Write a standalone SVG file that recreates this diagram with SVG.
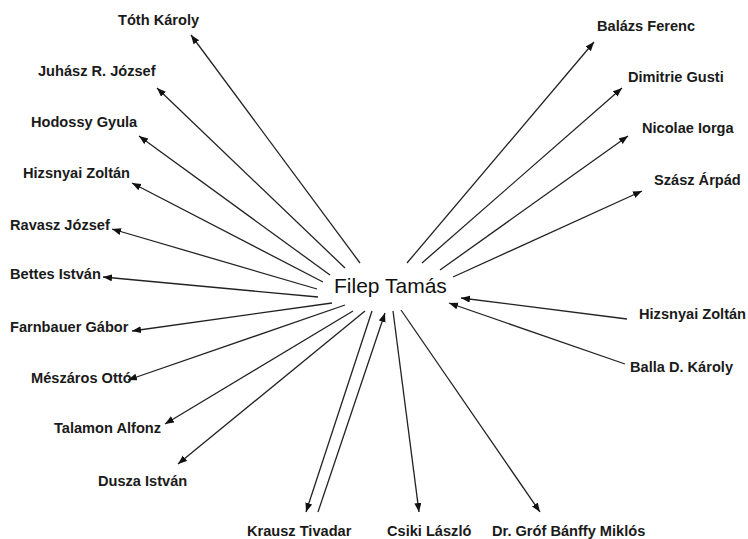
<svg xmlns="http://www.w3.org/2000/svg" width="748" height="539" viewBox="0 0 748 539">
<defs>
<style>
.lbl{font-family:"Liberation Sans",Arial,sans-serif;font-weight:bold;font-size:14.6px;fill:#1a1a1a}
.ctr{font-family:"Liberation Sans",Arial,sans-serif;font-size:21px;fill:#111}
.c line{stroke:#222;stroke-width:1.3;marker-end:url(#ah)}
</style>
<marker id="ah" markerUnits="userSpaceOnUse" markerWidth="10" markerHeight="8" refX="9" refY="3.5" orient="auto">
<path d="M0,0 L9,3.5 L0,7 z" fill="#111"/>
</marker>
</defs>
<rect width="748" height="539" fill="#fff"/>
<g id="connectors" class="c">
<line x1="360" y1="263" x2="191" y2="35"/>
<line x1="345" y1="268" x2="157" y2="88"/>
<line x1="330" y1="275" x2="139" y2="136"/>
<line x1="323" y1="282" x2="132" y2="183"/>
<line x1="317" y1="289" x2="112" y2="229"/>
<line x1="318" y1="297" x2="103" y2="277"/>
<line x1="332" y1="303" x2="132" y2="331"/>
<line x1="345" y1="305" x2="128" y2="380"/>
<line x1="353" y1="311" x2="165" y2="424"/>
<line x1="365" y1="311" x2="178" y2="464"/>
<line x1="372" y1="311" x2="306" y2="512"/>
<line x1="318" y1="512" x2="385" y2="313"/>
<line x1="393" y1="311" x2="419" y2="512"/>
<line x1="401" y1="310" x2="540" y2="512"/>
<line x1="407" y1="263" x2="594" y2="42"/>
<line x1="422" y1="263" x2="622" y2="88"/>
<line x1="440" y1="270" x2="628" y2="136"/>
<line x1="453" y1="277" x2="642" y2="191"/>
<line x1="627" y1="319" x2="461" y2="298"/>
<line x1="625" y1="364" x2="449" y2="303"/>
</g>
<g id="n-filep"><text class="ctr" x="334" y="293">Filep Tamás</text></g>
<g id="n-toth"><text class="lbl" x="118" y="25">Tóth Károly</text></g>
<g id="n-juhasz"><text class="lbl" x="38" y="76">Juhász R. József</text></g>
<g id="n-hodossy"><text class="lbl" x="31" y="127">Hodossy Gyula</text></g>
<g id="n-hizsnyai-l"><text class="lbl" x="23" y="178">Hizsnyai Zoltán</text></g>
<g id="n-ravasz"><text class="lbl" x="10" y="230">Ravasz József</text></g>
<g id="n-bettes"><text class="lbl" x="10" y="279">Bettes István</text></g>
<g id="n-farnbauer"><text class="lbl" x="10" y="332">Farnbauer Gábor</text></g>
<g id="n-meszaros"><text class="lbl" x="31" y="383">Mészáros Ottó</text></g>
<g id="n-talamon"><text class="lbl" x="54" y="433">Talamon Alfonz</text></g>
<g id="n-dusza"><text class="lbl" x="98" y="486">Dusza István</text></g>
<g id="n-krausz"><text class="lbl" x="247" y="536">Krausz Tivadar</text></g>
<g id="n-csiki"><text class="lbl" x="387" y="536">Csiki László</text></g>
<g id="n-banffy"><text class="lbl" x="492" y="536">Dr. Gróf Bánffy Miklós</text></g>
<g id="n-balazs"><text class="lbl" x="597" y="31">Balázs Ferenc</text></g>
<g id="n-gusti"><text class="lbl" x="628" y="82">Dimitrie Gusti</text></g>
<g id="n-iorga"><text class="lbl" x="642" y="133">Nicolae Iorga</text></g>
<g id="n-szasz"><text class="lbl" x="654" y="185">Szász Árpád</text></g>
<g id="n-hizsnyai-r"><text class="lbl" x="639" y="319">Hizsnyai Zoltán</text></g>
<g id="n-balla"><text class="lbl" x="630" y="372">Balla D. Károly</text></g>
</svg>
